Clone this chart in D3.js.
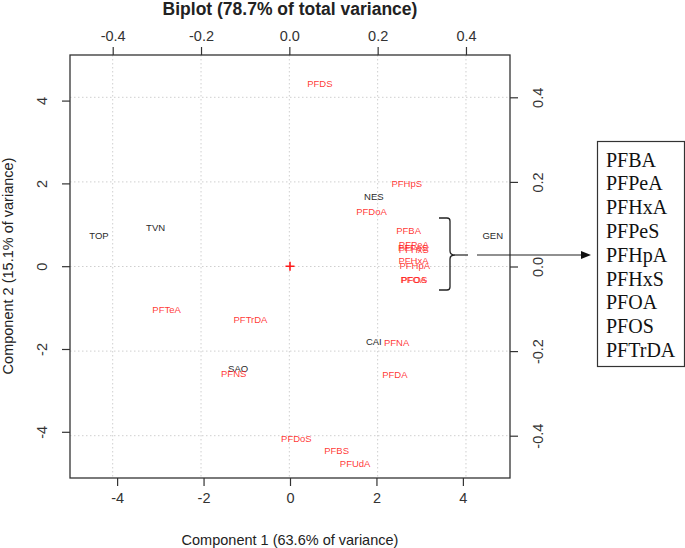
<!DOCTYPE html>
<html>
<head>
<meta charset="utf-8">
<script src="https://cdn.jsdelivr.net/npm/d3@7"></script>
<style>
  body { margin: 0; background: #fff; }
  svg { display: block; }
  text { font-family: "Liberation Sans", Arial, sans-serif; }
</style>
</head>
<body>
<svg id="chart" width="685" height="548"></svg>
<script>
// ---- data ----
const siteNames = ["TOP", "TVN", "NES", "GEN", "CAI", "SAO"];
const siteX = [-4.42, -3.11, 1.94, 4.69, 1.94, -1.20];
const siteY = [0.75, 0.93, 1.68, 0.75, -1.82, -2.48];

const varNames = ["PFDS", "PFHpS", "PFDoA", "PFBA", "PFPeA", "PFPeS", "PFHxS", "PFHxA", "PFHpA",
                  "PFOA", "PFOS", "PFTeA", "PFTrDA", "PFNS", "PFNA", "PFDA", "PFDoS", "PFBS", "PFUdA"];
const varX = [0.069, 0.266, 0.186, 0.270, 0.282, 0.280, 0.282, 0.281, 0.284,
              0.281, 0.283, -0.278, -0.088, -0.126, 0.243, 0.239, 0.016, 0.107, 0.149];
const varY = [0.433, 0.195, 0.130, 0.086, 0.053, 0.044, 0.039, 0.013, 0.002,
              -0.031, -0.032, -0.101, -0.125, -0.254, -0.180, -0.255, -0.406, -0.434, -0.465];

const scoreTicks = [-4, -2, 0, 2, 4];
const loadTicks = [-0.4, -0.2, 0.0, 0.2, 0.4];
const legendItems = ["PFBA", "PFPeA", "PFHxA", "PFPeS", "PFHpA", "PFHxS", "PFOA", "PFOS", "PFTrDA"];

const titleText = "Biplot (78.7% of total variance)";
const xLabel = "Component 1 (63.6% of variance)";
const yLabel = "Component 2 (15.1% of variance)";

// ---- layout ----
const L = 70, R = 510, T = 55, B = 478;
const svg = d3.select("#chart");

const xS = d3.scaleLinear().domain([-5.09, 5.09]).range([L, R]);
const yS = d3.scaleLinear().domain([-5.116, 5.101]).range([B, T]);
const xL = d3.scaleLinear().domain([-0.4967, 0.4997]).range([L, R]);
const yL = d3.scaleLinear().domain([-0.5, 0.5]).range([B, T]);

// grid (from loading axes)
const grid = svg.append("g").attr("stroke", "#cfcfcf").attr("stroke-dasharray", "1.5,2.5").attr("stroke-width", 1);
loadTicks.forEach(t => {
  grid.append("line").attr("x1", xL(t)).attr("x2", xL(t)).attr("y1", T).attr("y2", B);
  grid.append("line").attr("y1", yL(t)).attr("y2", yL(t)).attr("x1", L).attr("x2", R);
});

// axes
const fmtLoad = d3.format(".1f");
const axStyle = g => {
  g.select(".domain").remove();
  g.selectAll(".tick line").attr("stroke", "#333").attr("stroke-width", 1.2);
  g.selectAll(".tick text").attr("fill", "#333").style("font-size", "14.5px")
    .style("font-family", '"Liberation Sans", Arial, sans-serif');
};
const fmtNum = d => d < 0 ? "-" + Math.abs(d) : String(d);
const fmtL = d => d < 0 ? "-" + fmtLoad(Math.abs(d)) : fmtLoad(d);

svg.append("g").attr("transform", `translate(0,${B})`)
  .call(d3.axisBottom(xS).tickValues(scoreTicks).tickFormat(fmtNum).tickSize(8).tickPadding(7))
  .call(axStyle);
svg.append("g").attr("transform", `translate(0,${T})`)
  .call(d3.axisTop(xL).tickValues(loadTicks).tickFormat(fmtL).tickSize(8).tickPadding(6))
  .call(axStyle);

const gl = svg.append("g").attr("transform", `translate(${L},0)`)
  .call(d3.axisLeft(yS).tickValues(scoreTicks).tickFormat(fmtNum).tickSize(8).tickPadding(0))
  .call(axStyle);
gl.selectAll(".tick text").attr("x", null).attr("dy", null)
  .attr("text-anchor", "middle")
  .attr("transform", "translate(-23,0) rotate(-90)")
  .attr("y", 0);

const gr = svg.append("g").attr("transform", `translate(${R},0)`)
  .call(d3.axisRight(yL).tickValues(loadTicks).tickFormat(fmtL).tickSize(8).tickPadding(0))
  .call(axStyle);
gr.selectAll(".tick text").attr("x", null).attr("dy", null)
  .attr("text-anchor", "middle")
  .attr("transform", "translate(33,0) rotate(-90)")
  .attr("y", 0);

// box
svg.append("rect").attr("x", L).attr("y", T).attr("width", R - L).attr("height", B - T)
  .attr("fill", "none").attr("stroke", "#333").attr("stroke-width", 1.3);

// titles
svg.append("text").attr("x", 290).attr("y", 15).attr("text-anchor", "middle")
  .style("font-size", "17.5px").style("font-weight", "bold").attr("fill", "#222").text(titleText);
svg.append("text").attr("x", 290).attr("y", 545).attr("text-anchor", "middle")
  .style("font-size", "14.5px").attr("fill", "#222").text(xLabel);
svg.append("text").attr("transform", "translate(13,266) rotate(-90)").attr("text-anchor", "middle")
  .style("font-size", "14.5px").attr("fill", "#222").text(yLabel);

// origin marker
const ox = xS(0), oy = yS(0);
svg.append("path").attr("d", `M${ox - 4.5},${oy}H${ox + 4.5}M${ox},${oy - 4.5}V${oy + 4.5}`)
  .attr("stroke", "#ff1a1a").attr("stroke-width", 1.6);

// site labels (scores)
svg.append("g").selectAll("text").data(siteNames).join("text")
  .attr("x", (d, i) => xS(siteX[i])).attr("y", (d, i) => yS(siteY[i]))
  .attr("dy", "0.36em").attr("text-anchor", "middle")
  .style("font-size", "9.5px").attr("fill", "#2a2a2a").text(d => d);

// variable labels (loadings)
svg.append("g").selectAll("text").data(varNames).join("text")
  .attr("x", (d, i) => xL(varX[i])).attr("y", (d, i) => yL(varY[i]))
  .attr("dy", "0.36em").attr("text-anchor", "middle")
  .style("font-size", "9.5px").attr("fill", "#ff1a1a").attr("fill-opacity", 0.9).text(d => d);

// brace
const bx = 450, bt = 218, bb = 290, bm = 255;
svg.append("path")
  .attr("d", `M${bx - 11},${bt} L${bx - 3},${bt} Q${bx},${bt} ${bx},${bt + 3} L${bx},${bm - 4} Q${bx},${bm} ${bx + 5},${bm}
              Q${bx},${bm} ${bx},${bm + 4} L${bx},${bb - 3} Q${bx},${bb} ${bx - 3},${bb} L${bx - 11},${bb}`)
  .attr("fill", "none").attr("stroke", "#222").attr("stroke-width", 1.3);
svg.append("line").attr("x1", 455).attr("x2", 468).attr("y1", bm).attr("y2", bm)
  .attr("stroke", "#222").attr("stroke-width", 1.2);
svg.append("line").attr("x1", 477).attr("x2", 583).attr("y1", bm).attr("y2", bm)
  .attr("stroke", "#222").attr("stroke-width", 1.2);
svg.append("path").attr("d", `M591,${bm} L581,${bm - 4} L581,${bm + 4} Z`).attr("fill", "#111");

// legend box
const lg = svg.append("g");
lg.append("rect").attr("x", 597.5).attr("y", 141.5).attr("width", 87).attr("height", 225)
  .attr("fill", "#fff").attr("stroke", "#333").attr("stroke-width", 1.2);
lg.selectAll("text").data(legendItems).join("text")
  .attr("x", 606).attr("y", (d, i) => 159.5 + i * 23.8).attr("dy", "0.35em")
  .style("font-family", '"Liberation Serif", "Times New Roman", serif').style("font-size", "20px")
  .attr("fill", "#111").text(d => d);
</script>
</body>
</html>
